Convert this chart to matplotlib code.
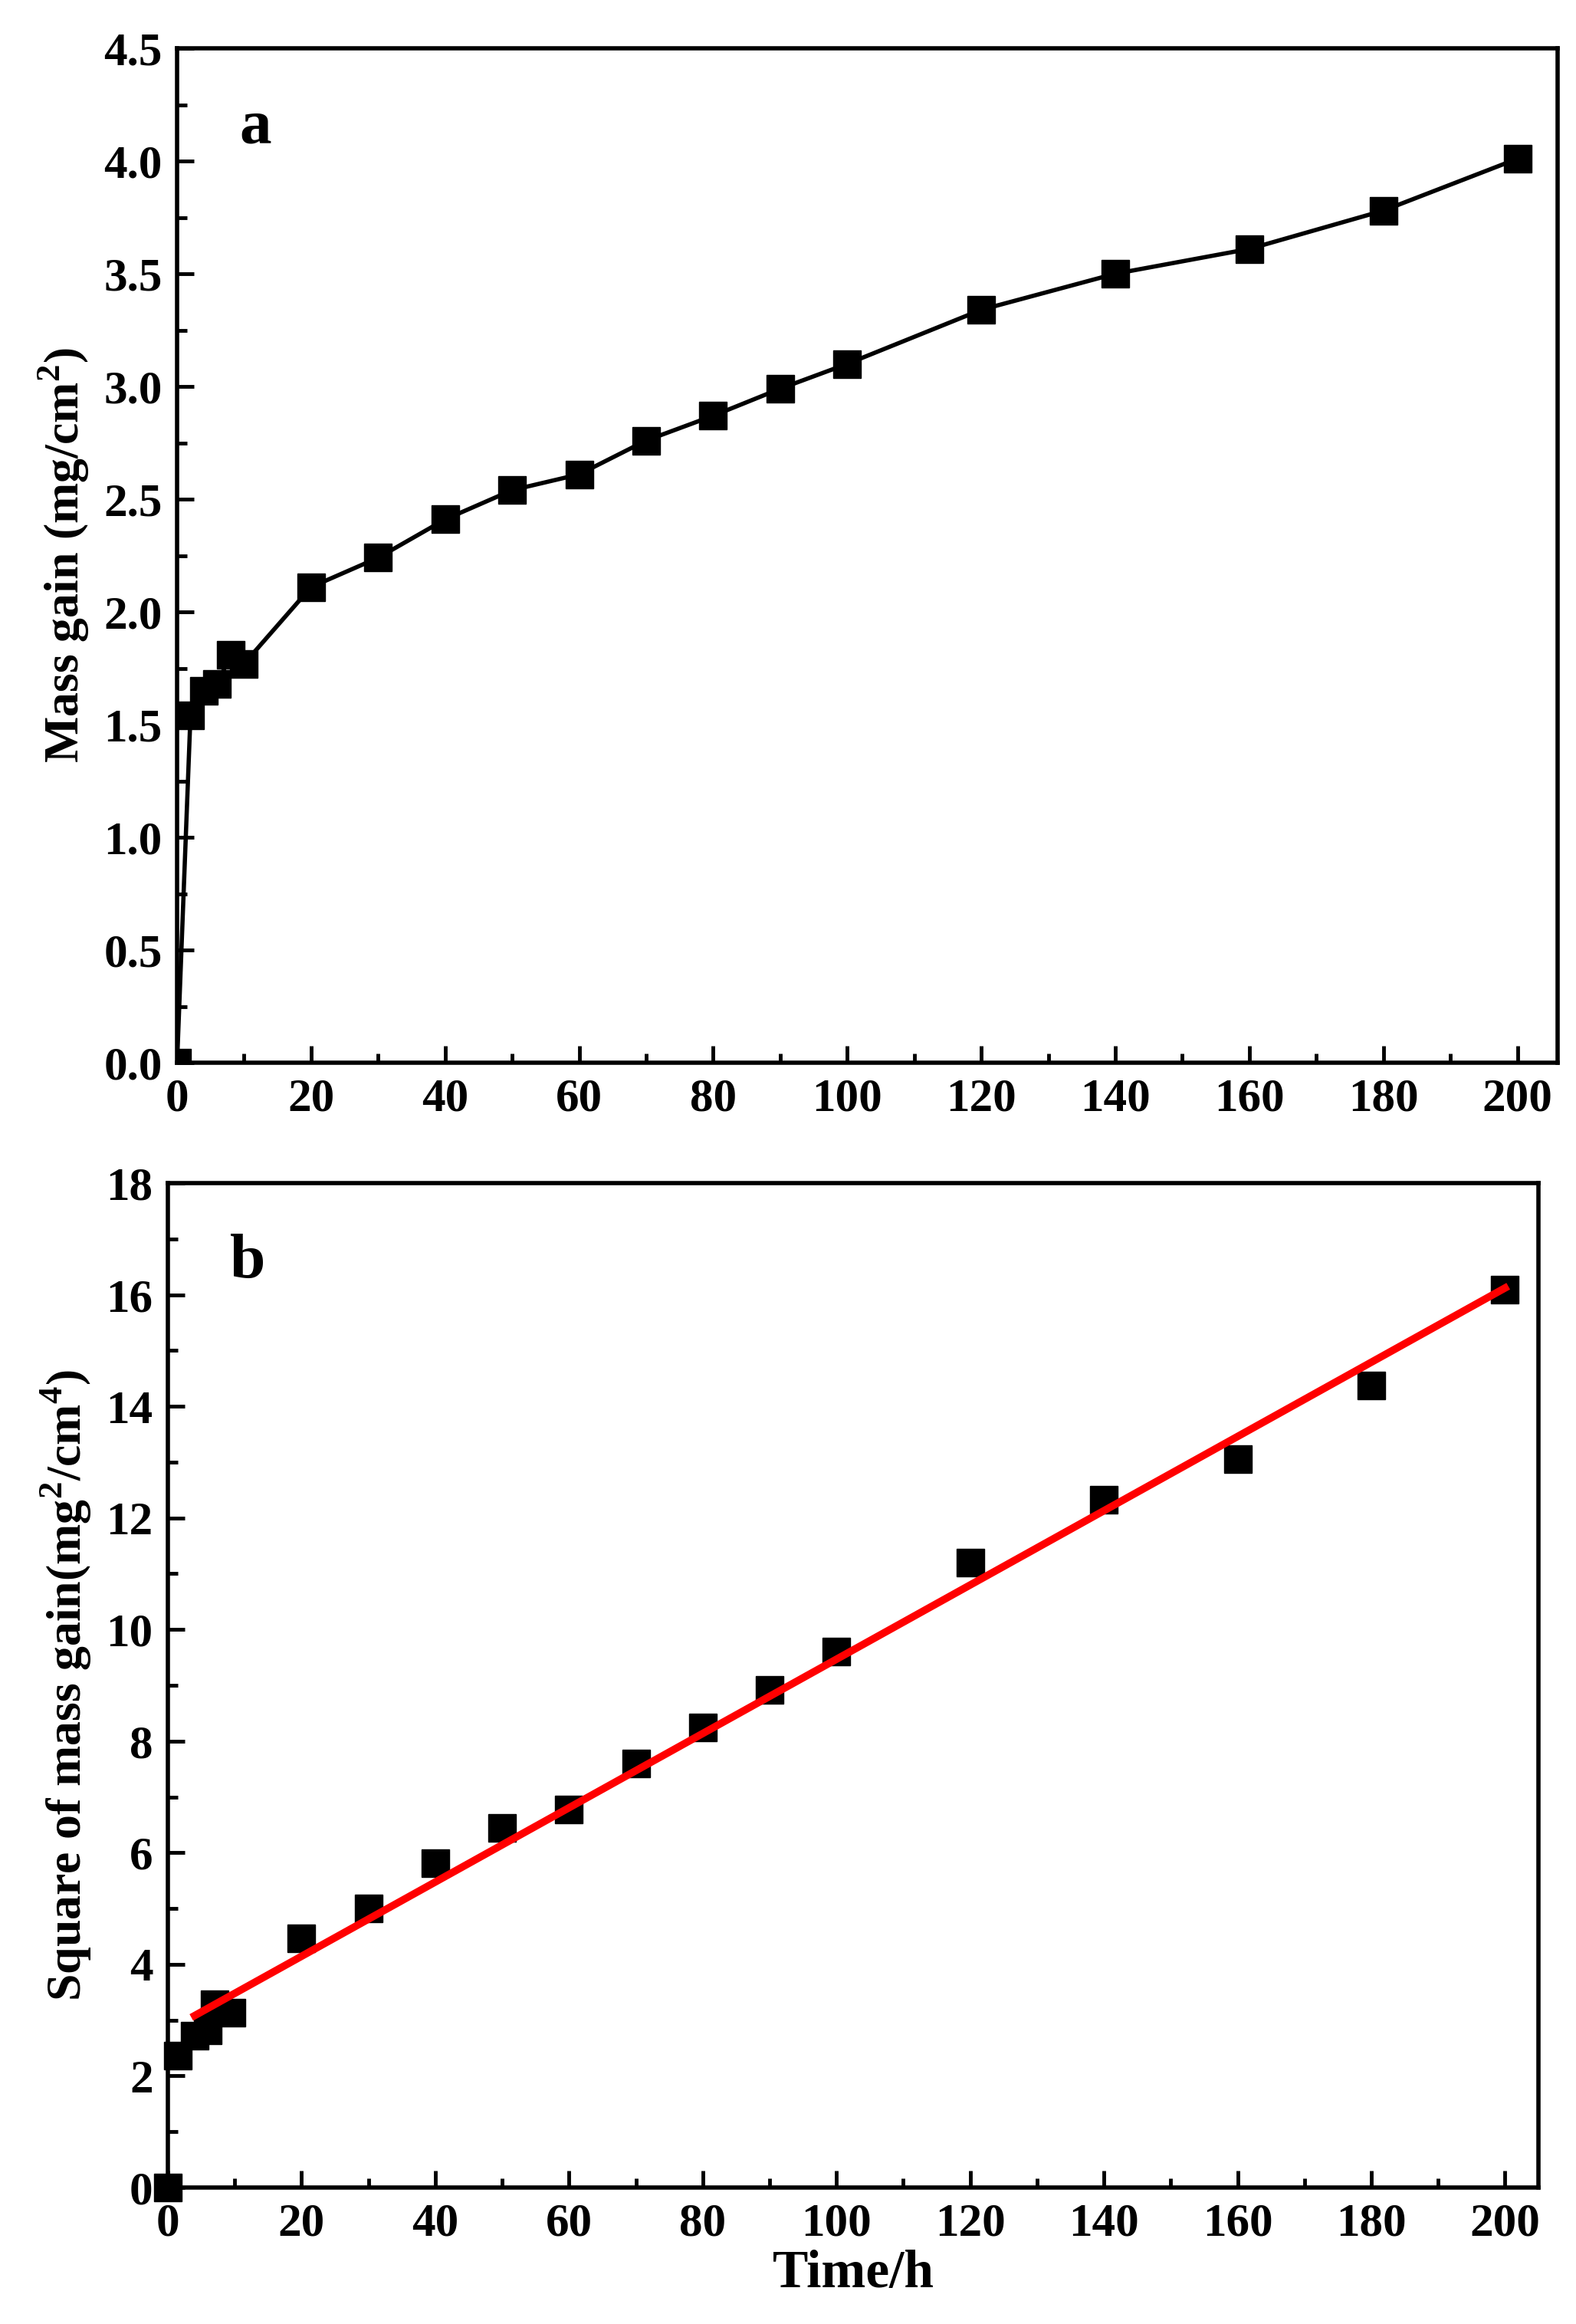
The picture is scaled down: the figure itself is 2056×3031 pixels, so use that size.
import numpy as np
import matplotlib.pyplot as plt
from matplotlib.ticker import MultipleLocator

plt.rcParams['font.family'] = ['Liberation Serif']
plt.rcParams['font.weight'] = 'bold'
plt.rcParams['mathtext.fontset'] = 'custom'
plt.rcParams['mathtext.rm'] = 'Liberation Serif:bold'
plt.rcParams['mathtext.bf'] = 'Liberation Serif:bold'

time_h = [0, 2, 4, 6, 8, 10, 20, 30, 40, 50, 60, 70, 80, 90, 100, 120, 140, 160, 180, 200]
mass_gain = [0, 1.54, 1.65, 1.68, 1.81, 1.77, 2.11, 2.24, 2.41, 2.54, 2.61, 2.76, 2.87, 2.99, 3.10,
             3.34, 3.50, 3.61, 3.78, 4.01]
time_b = [0, 1.5, 4, 6, 7, 9.5, 20, 30, 40, 50, 60, 70, 80, 90, 100, 120, 140, 160, 180, 200]
mass_sq = [0, 2.37, 2.72, 2.82, 3.28, 3.13, 4.46, 5.0, 5.81, 6.44, 6.78, 7.6, 8.24, 8.92, 9.61,
           11.2, 12.33, 13.06, 14.37, 16.09]
fit_x = [4, 200]
fit_y = [3.08, 16.12]

W, H = 2056, 3031
fig = plt.figure(figsize=(W / 100, H / 100), dpi=100)
ax1 = fig.add_axes([231 / W, 1 - 1386 / H, (2032 - 231) / W, (1386 - 63) / H])
ax2 = fig.add_axes([219 / W, 1 - 2853 / H, (2007 - 219) / W, (2853 - 1543) / H])

ax1.plot(time_h, mass_gain, '-s', color='black', lw=4, markersize=26)
ax1.set_xlim(0, 206)
ax1.set_ylim(0, 4.5)
ax1.yaxis.set_major_locator(MultipleLocator(0.5))
ax1.yaxis.set_minor_locator(MultipleLocator(0.25))
ax1.yaxis.set_major_formatter(plt.FormatStrFormatter('%.1f'))
ax1.set_ylabel('Mass gain (mg/cm$^{2}$)', fontsize=46, fontweight='bold', labelpad=12)
ax1.text(0.045, 0.95, 'a', transform=ax1.transAxes, fontsize=60, fontweight='bold', va='top')

ax2.plot(time_b, mass_sq, 's', color='black', markersize=26, clip_on=False)
ax2.plot(fit_x, fit_y, color='red', lw=7)
ax2.set_xlim(0, 205)
ax2.set_ylim(0, 18)
ax2.yaxis.set_major_locator(MultipleLocator(2))
ax2.yaxis.set_minor_locator(MultipleLocator(1))
ax2.set_ylabel('Square of mass gain(mg$^{2}$/cm$^{4}$)', fontsize=46, fontweight='bold', labelpad=12)
ax2.set_xlabel('Time/h', fontsize=50, fontweight='bold')
ax2.text(0.045, 0.95, 'b', transform=ax2.transAxes, fontsize=60, fontweight='bold', va='top')

for ax in (ax1, ax2):
    ax.xaxis.set_major_locator(MultipleLocator(20))
    ax.xaxis.set_minor_locator(MultipleLocator(10))
    ax.tick_params(which='both', direction='in', labelsize=44, width=3.5)
    ax.tick_params(which='major', length=16, pad=14)
    ax.tick_params(which='minor', length=9)
    ax.tick_params(top=False, right=False)
    for s in ax.spines.values():
        s.set_linewidth(4)
    for lab in ax.get_xticklabels() + ax.get_yticklabels():
        lab.set_fontweight('bold')

fig.savefig('out.png', dpi=100)
